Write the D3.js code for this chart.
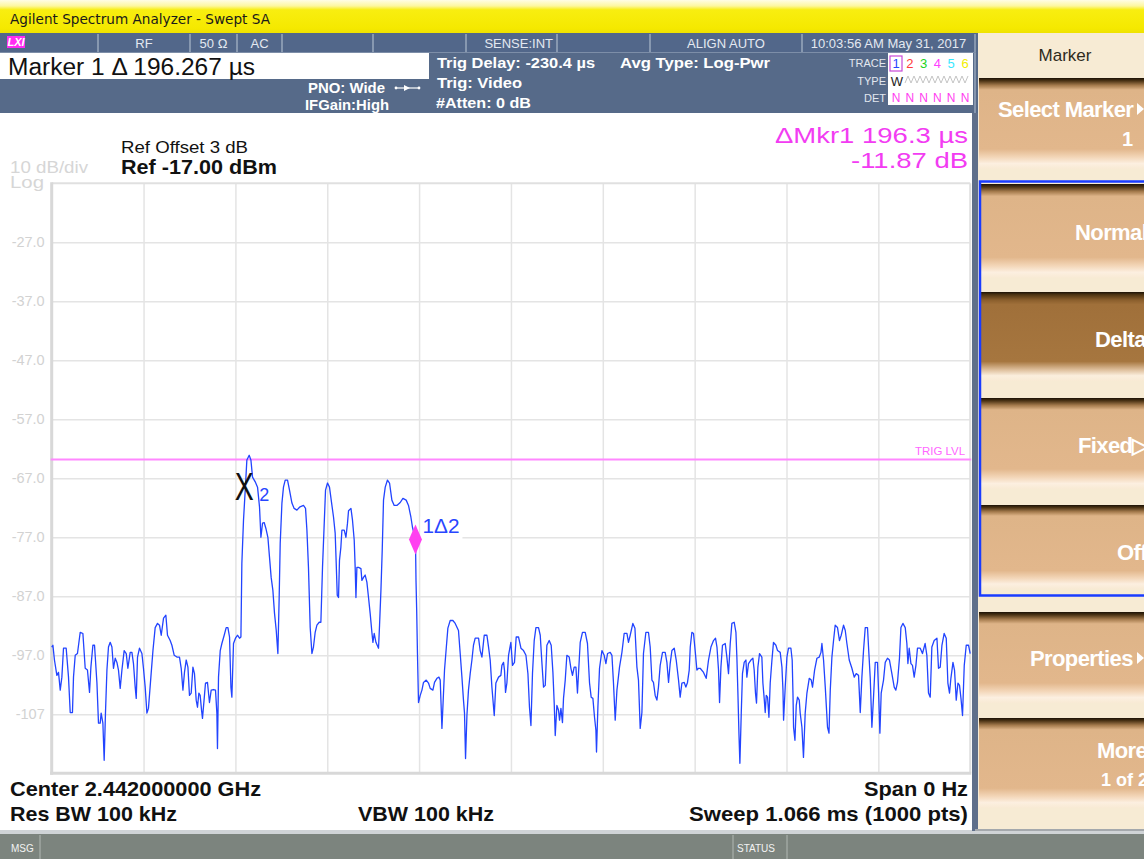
<!DOCTYPE html>
<html>
<head>
<meta charset="utf-8">
<script src="https://cdn.jsdelivr.net/npm/d3@7"></script>
<style>
  html, body { margin: 0; padding: 0; background: #ffffff; overflow: hidden; }
  svg { display: block; font-family: "Liberation Sans", Arial, sans-serif; }
</style>
</head>
<body>
<svg id="screen" width="1144" height="859"></svg>
<script>
// ---- Instrument settings ----
const refLevelDbm = -17;
const dbPerDiv = 10;
const numDivisions = 10;
const sweepTimeUs = 1066;
const trigLevelDbm = -63.8;

// Y grid values and their labels (top/bottom graticule lines are unlabeled)
const yGridDbm = [-27, -37, -47, -57, -67, -77, -87, -97, -107];
const yGridLabels = ["-27.0", "-37.0", "-47.0", "-57.0", "-67.0", "-77.0", "-87.0", "-97.0", "-107"];

// Markers: marker 2 is the reference, marker 1 is a delta from it
const marker2 = { timeUs: 225.9, dbm: -65.5 };
const marker1Delta = { timeUs: 196.267, db: -11.87 };

// Trace 1 (clear/write): [time from sweep start in µs, level in dBm]
const traceSweep = [
[0,-95.6],[1.4,-95.3],[3.2,-97.8],[6.0,-100.4],[7.9,-99.9],[9.9,-102.9],[11.8,-100.7],[13.7,-95.8],[16.8,-95.8],[19.5,-100.7],
[21.5,-106.7],[24.1,-106.7],[25.3,-100.7],[27.3,-97.0],[29.9,-96.7],[33.1,-93.1],[36.2,-93.3],[38.9,-99.2],[41.5,-99.5],[43.9,-103.3],
[45.5,-99.0],[47.8,-95.3],[49.7,-95.3],[52.5,-101.7],[54.3,-108.5],[56.3,-108.5],[57.4,-106.8],[59.4,-108.5],[60.9,-114.8],[62.4,-106.8],
[64.1,-99.5],[65.9,-95.6],[67.9,-94.8],[69.9,-95.6],[71.7,-99.2],[73.7,-97.5],[75.7,-98.2],[77.5,-99.5],[79.5,-102.6],[81.5,-99.5],
[84.1,-96.2],[86.5,-96.7],[88.4,-99.2],[91.1,-96.5],[93.1,-96.5],[94.9,-98.4],[96.9,-102.4],[98.1,-104.3],[99.6,-97.3],[101.9,-95.8],
[104.7,-96.7],[106.5,-99.2],[108.5,-102.4],[110.5,-106.8],[112.3,-106.0],[115.1,-100.7],[117.5,-96.2],[120.1,-92.3],[122.8,-91.6],[125.1,-91.9],
[127.1,-93.6],[129.8,-90.7],[132.5,-90.2],[134.4,-93.6],[137.5,-94.5],[139.5,-95.3],[142.2,-97.0],[145.3,-97.3],[148.3,-97.3],[150.3,-99.2],
[152.3,-102.9],[154.1,-99.9],[156.1,-97.8],[158.1,-99.0],[159.9,-103.8],[161.9,-103.4],[163.9,-99.0],[165.7,-100.1],[167.7,-104.6],[169.2,-105.8],
[170.8,-103.4],[172.3,-103.8],[173.9,-106.3],[175.0,-107.7],[177.0,-104.3],[178.5,-101.7],[180.8,-101.6],[182.0,-103.4],[183.1,-105.0],[185.1,-102.9],
[187.8,-102.8],[190.1,-102.9],[191.7,-106.8],[192.4,-112.8],[193.6,-100.7],[195.6,-96.2],[197.5,-95.0],[200.2,-93.6],[202.5,-92.3],[204.5,-92.3],
[206.4,-93.9],[208.0,-102.4],[209.1,-104.1],[211.0,-95.0],[213.3,-94.1],[215.6,-93.6],[218.0,-94.1],[219.6,-93.9],
[220.7,-81.4],[222.6,-74.1],[224.6,-69.0],[226.5,-63.9],[229.2,-63.1],[231.2,-63.9],[233.1,-66.8],[236.2,-67.6],[238.9,-68.5],[241.2,-71.9],
[242.8,-77.0],[244.7,-74.6],[246.6,-74.5],[248.6,-75.5],[250.9,-77.0],[252.8,-80.4],[254.7,-83.8],[256.7,-86.0],[258.6,-89.9],[260.6,-92.8],
[262.5,-96.7],[264.0,-87.2],[265.2,-78.0],[267.2,-71.2],[269.0,-68.5],[271.0,-67.3],[273.7,-67.3],[276.0,-69.0],[278.8,-71.2],[281.4,-72.1],
[284.6,-72.4],[287.6,-71.9],[292.2,-71.6],[294.6,-72.1],[296.2,-75.8],[298.0,-82.1],[300.0,-92.3],[302.0,-96.7],[303.8,-95.6],[305.8,-93.1],
[307.8,-91.9],[310.5,-91.4],[312.4,-91.4],[314.3,-82.1],[316.3,-74.6],[317.8,-69.0],[320.1,-67.8],[322.4,-68.5],[324.4,-70.7],[327.1,-73.6],
[329.0,-76.3],[330.2,-81.4],[331.4,-86.8],[332.9,-87.2],[334.0,-80.9],[335.6,-78.7],[336.8,-75.8],[339.5,-75.8],[341.5,-77.0],[343.3,-74.6],
[344.5,-72.5],[347.3,-72.1],[349.1,-74.1],[351.1,-77.5],[352.2,-82.1],[353.1,-87.2],[354.2,-82.1],[356.1,-82.1],[358.9,-82.3],[360.0,-84.3],
[361.9,-83.8],[363.8,-83.4],[365.8,-84.6],[367.7,-87.2],[369.6,-89.9],[371.6,-93.1],[372.8,-94.8],[374.3,-93.3],[376.3,-94.8],[379.3,-95.8],
[380.5,-91.9],[382.1,-86.0],[383.6,-79.2],[385.1,-70.7],[387.1,-68.5],[389.7,-67.3],[392.1,-67.8],[394.8,-70.7],[397.5,-71.6],[400.6,-71.6],
[404.5,-71.1],[407.6,-70.4],[411.4,-70.7],[414.1,-71.6],[416.9,-73.6],[418.7,-75.3],[422.2,-77.4],[422.8,-84.3],[423.6,-89.4],[424.5,-96.7],
[425.7,-105.0],[427.7,-103.8],[429.7,-102.9],[431.5,-101.6],[434.7,-101.2],[437.3,-101.7],[439.3,-102.6],[442.4,-102.9],[444.3,-101.6],[447.1,-100.9],
[449.4,-100.7],[450.9,-101.2],[452.9,-109.4],[454.0,-105.8],[455.9,-99.5],[457.9,-95.8],[459.8,-92.4],[462.5,-91.1],[465.6,-91.1],[468.3,-91.6],
[472.1,-92.8],[474.1,-96.7],[476.1,-100.7],[477.9,-104.6],[479.1,-106.8],[480.3,-114.5],[481.9,-107.2],[483.7,-102.9],[485.7,-100.1],[487.7,-97.8],
[489.5,-95.3],[491.5,-94.1],[495.4,-94.1],[497.3,-96.2],[499.3,-97.3],[502.0,-93.6],[505.1,-93.6],[507.0,-95.6],[508.9,-97.8],[510.9,-102.4],
[513.6,-107.2],[515.5,-101.7],[518.6,-100.7],[521.3,-100.4],[522.5,-98.7],[524.4,-98.2],[525.5,-99.5],[526.7,-103.3],[528.3,-101.7],[530.2,-97.0],
[532.9,-94.8],[534.8,-98.7],[537.1,-98.2],[539.1,-93.9],[541.8,-93.9],[544.6,-95.8],[547.6,-96.2],[550.4,-97.0],[552.7,-100.1],[554.5,-105.8],
[556.2,-108.9],[558.0,-100.1],[560.0,-94.5],[562.0,-92.3],[565.0,-92.3],[567.0,-93.6],[568.9,-98.2],[570.8,-102.4],[572.8,-102.1],[574.7,-95.3],
[577.4,-94.5],[579.7,-95.3],[581.7,-99.9],[583.2,-105.1],[584.4,-110.6],[586.3,-105.5],[588.2,-106.3],[589.4,-108.0],[591.0,-106.0],[592.8,-108.4],
[594.0,-104.3],[596.0,-101.2],[597.9,-97.0],[600.6,-97.3],[602.6,-99.2],[604.4,-100.4],[606.4,-99.0],[608.4,-99.0],[610.2,-103.4],[611.4,-100.1],
[613.4,-94.8],[616.0,-93.1],[619.2,-93.1],[621.8,-95.0],[624.2,-101.7],[626.1,-104.1],[628.1,-104.3],[630.0,-107.5],[631.6,-109.7],[632.3,-113.4],
[633.9,-105.8],[635.8,-99.2],[638.6,-96.2],[641.2,-97.0],[643.2,-98.4],[645.1,-96.7],[648.2,-96.5],[650.2,-97.0],[652.0,-101.7],[654.0,-108.0],
[656.0,-102.9],[659.0,-99.0],[661.8,-96.5],[664.4,-93.3],[667.6,-93.3],[669.4,-94.8],[671.4,-93.6],[674.5,-91.6],[676.9,-92.4],[679.2,-99.0],
[681.0,-101.2],[683.0,-109.4],[685.0,-106.7],[686.8,-96.7],[689.6,-93.1],[692.6,-93.1],[694.6,-95.6],[696.6,-101.2],[698.4,-101.6],[700.4,-103.8],
[702.4,-104.6],[704.2,-102.4],[706.2,-98.7],[708.9,-96.5],[712.0,-96.5],[714.0,-98.2],[715.9,-101.6],[717.8,-98.4],[719.8,-96.2],[722.5,-95.8],
[724.8,-97.8],[727.5,-101.2],[729.4,-104.1],[731.4,-101.7],[734.1,-101.6],[736.0,-102.4],[737.9,-101.6],[739.9,-99.5],[741.1,-95.6],[743.0,-93.1],
[744.9,-93.3],[746.8,-96.2],[748.8,-99.5],[750.7,-99.2],[752.6,-99.2],[756.5,-99.9],[759.6,-100.9],[762.3,-97.8],[765.1,-95.6],[768.1,-94.5],
[770.4,-94.1],[772.1,-95.6],[773.9,-99.5],[775.1,-105.0],[776.7,-99.0],[778.5,-95.3],[781.7,-95.0],[783.6,-97.3],[785.5,-100.1],[787.5,-95.0],
[789.4,-91.6],[792.1,-91.4],[794.1,-93.1],[795.2,-97.3],[796.4,-103.4],[797.6,-110.2],[798.7,-115.3],[800.3,-106.8],[801.7,-100.1],[803.7,-98.2],
[805.7,-97.8],[806.8,-100.7],[808.7,-98.4],[811.5,-97.8],[813.8,-97.5],[815.3,-99.5],[816.8,-103.4],[818.0,-105.1],[819.6,-99.0],[821.5,-96.7],
[824.2,-97.3],[825.4,-101.7],[826.9,-104.3],[828.1,-106.7],[829.3,-103.8],[830.8,-104.1],[832.4,-107.5],[833.9,-101.7],[835.9,-97.8],[837.7,-94.8],
[840.5,-95.3],[842.4,-96.2],[845.5,-96.5],[847.5,-99.0],[848.7,-102.9],[849.4,-108.0],[851.3,-102.4],[853.3,-97.3],[855.1,-95.8],[857.9,-95.8],
[859.4,-97.8],[860.3,-103.4],[861.0,-109.2],[862.6,-111.4],[864.1,-105.5],[865.6,-104.1],[867.6,-104.6],[868.7,-106.8],[870.7,-109.2],[872.5,-114.3],
[874.5,-106.8],[876.5,-103.4],[879.2,-100.9],[881.5,-101.2],[883.0,-102.4],[885.4,-99.5],[888.1,-97.5],[890.8,-97.3],[892.8,-96.5],[893.9,-95.0],
[895.8,-97.8],[897.8,-102.4],[900.4,-109.2],[902.1,-110.2],[903.6,-102.9],[905.5,-97.3],[907.4,-94.5],[909.3,-91.9],[912.0,-92.3],[914.3,-94.5],
[916.3,-93.6],[919.0,-91.9],[921.0,-92.8],[922.9,-95.0],[925.6,-97.8],[928.7,-99.2],[931.4,-100.7],[933.7,-100.1],[936.4,-100.4],[938.4,-106.7],
[940.3,-100.7],[942.2,-96.2],[944.2,-92.3],[946.8,-92.3],[948.0,-95.6],[950.0,-100.9],[951.9,-109.2],[953.8,-104.1],[955.8,-98.2],[958.4,-98.2],
[959.6,-102.9],[961.2,-110.2],[962.7,-103.4],[965.4,-101.2],[967.4,-98.2],[970.0,-97.5],[972.3,-97.8],[975.1,-100.1],[977.8,-102.4],[979.7,-102.9],
[981.6,-101.6],[983.9,-97.5],[985.6,-92.3],[987.9,-91.6],[990.6,-92.3],[992.5,-95.0],[993.7,-98.4],[995.2,-95.8],[997.2,-98.4],[999.0,-98.7],
[1001.0,-100.7],[1003.0,-98.7],[1004.8,-95.8],[1008.0,-95.8],[1010.6,-96.7],[1013.7,-95.0],[1015.7,-97.0],[1017.6,-103.4],[1019.6,-104.1],[1021.5,-95.6],
[1024.2,-94.5],[1027.4,-94.1],[1029.2,-99.2],[1031.2,-99.0],[1033.2,-95.3],[1035.8,-93.3],[1038.2,-94.1],[1040.1,-101.7],[1042.0,-103.4],[1043.6,-100.9],
[1046.0,-98.2],[1047.8,-99.5],[1049.8,-104.6],[1051.8,-101.7],[1053.6,-102.1],[1055.3,-104.3],[1057.1,-107.2],[1059.1,-98.7],[1061.4,-95.3],[1064.1,-95.3],
[1066.0,-96.7]
];

// Header / footer annotation text
const statusCells = [
  { x0: 98,  x1: 190, text: "RF" },
  { x0: 190, x1: 237, text: "50 Ω" },
  { x0: 237, x1: 282, text: "AC" },
  { x0: 282, x1: 373, text: "" },
  { x0: 373, x1: 466, text: "" },
  { x0: 466, x1: 557, text: "SENSE:INT", anchor: "end" },
  { x0: 557, x1: 650, text: "" },
  { x0: 650, x1: 802, text: "ALIGN AUTO" },
  { x0: 802, x1: 975, text: "10:03:56 AM May 31, 2017" }
];
const traceColors = ["#2846ff", "#ff3a3a", "#22d422", "#ff40ff", "#38e8ff", "#f2ee00"];
const softkeys = [
  { label: "Select Marker", sub: "1", top: 78,  bottom: 169, tx: 998,  ty: 117, subX: 1122, subY: 146, arrow: "▶" },
  { label: "Normal",        top: 184, bottom: 278, tx: 1075, ty: 240 },
  { label: "Delta",         top: 292, bottom: 381, tx: 1095, ty: 347, selected: true },
  { label: "Fixed",         top: 398, bottom: 489, tx: 1078, ty: 453, arrow: "▷" },
  { label: "Off",           top: 505, bottom: 589, tx: 1117, ty: 560 },
  { label: "Properties",    top: 612, bottom: 703, tx: 1030, ty: 666, arrow: "▶" },
  { label: "More", sub: "1 of 2", top: 718, bottom: 808, tx: 1097, ty: 758, subX: 1101, subY: 786 }
];

// ---- Drawing ----
const svg = d3.select("#screen");
const defs = svg.append("defs");

// Stretch a text to a given rendered width
function fit(sel, w) {
  return sel.attr("textLength", w).attr("lengthAdjust", "spacingAndGlyphs");
}

function vGrad(id, stops) {
  const g = defs.append("linearGradient").attr("id", id)
    .attr("x1", 0).attr("y1", 0).attr("x2", 0).attr("y2", 1);
  stops.forEach(([o, c]) => g.append("stop").attr("offset", o).attr("stop-color", c));
}
vGrad("titleGrad", [[0, "#fffde6"], [0.18, "#fdf7a0"], [0.3, "#f8ee10"], [0.85, "#f5e900"], [1, "#efe200"]]);
vGrad("keyGrad", [[0, "#1c1206"], [0.03, "#4a3214"], [0.08, "#a47a4c"], [0.13, "#deb488"], [0.78, "#e2b78c"], [0.87, "#f3d6b8"], [0.94, "#fcefe0"], [1, "#f8ead4"]]);
vGrad("keySelGrad", [[0, "#1c1206"], [0.03, "#4e3412"], [0.09, "#8a5e2c"], [0.14, "#a0703a"], [0.78, "#a6763f"], [0.87, "#dcbc98"], [0.94, "#fbeedd"], [1, "#f8ead4"]]);

// Title bar
svg.append("rect").attr("x", 0).attr("y", 0).attr("width", 1144).attr("height", 33).attr("fill", "url(#titleGrad)");
fit(svg.append("text").attr("x", 10).attr("y", 24)
  .attr("font-family", "DejaVu Sans, Verdana, sans-serif").attr("font-size", 13.5).attr("fill", "#1a1a1a")
  .text("Agilent Spectrum Analyzer - Swept SA"), 260);

// Main display backgrounds
svg.append("rect").attr("x", 0).attr("y", 33).attr("width", 978).attr("height", 80).attr("fill", "#566a89");
svg.append("rect").attr("x", 0).attr("y", 113).attr("width", 972).attr("height", 718).attr("fill", "#ffffff");

// Status row
const status = svg.append("g");
status.append("rect").attr("x", 0).attr("y", 33).attr("width", 976).attr("height", 19).attr("fill", "#52678a");
statusCells.forEach(c => {
  status.append("line").attr("x1", c.x0).attr("x2", c.x0).attr("y1", 34).attr("y2", 52)
    .attr("stroke", "#9aa8bd").attr("stroke-width", 1.5);
  if (c.text) {
    const anchorEnd = c.anchor === "end";
    status.append("text")
      .attr("x", anchorEnd ? c.x1 - 4 : (c.x0 + c.x1) / 2)
      .attr("y", 48).attr("text-anchor", anchorEnd ? "end" : "middle")
      .attr("font-size", 13).attr("fill", "#e4e9f1").text(c.text);
  }
});
status.append("line").attr("x1", 975).attr("x2", 975).attr("y1", 34).attr("y2", 113).attr("stroke", "#8696ae").attr("stroke-width", 2);
status.append("line").attr("x1", 0).attr("x2", 976).attr("y1", 52.5).attr("y2", 52.5).attr("stroke", "#7d8ea8").attr("stroke-width", 1);
// LXI badge
status.append("rect").attr("x", 7).attr("y", 36).attr("width", 18).attr("height", 12).attr("fill", "#ff2cf2");
status.append("text").attr("x", 16).attr("y", 46).attr("text-anchor", "middle")
  .attr("font-size", 11).attr("font-weight", "bold").attr("font-style", "italic").attr("fill", "#ffffff").text("LXI");

// Active function readout
svg.append("rect").attr("x", 0).attr("y", 53).attr("width", 429).attr("height", 26).attr("fill", "#ffffff");
fit(svg.append("text").attr("x", 8).attr("y", 75).attr("font-size", 23).attr("fill", "#111")
  .text("Marker 1 Δ 196.267 µs"), 247);

// Settings readouts
const info = svg.append("g").attr("fill", "#ffffff").attr("font-weight", "bold").attr("font-size", 15);
fit(info.append("text").attr("x", 308).attr("y", 93).text("PNO: Wide"), 77);
fit(info.append("text").attr("x", 305).attr("y", 110).text("IFGain:High"), 84);
fit(info.append("text").attr("x", 437).attr("y", 68).text("Trig Delay: -230.4 µs"), 158);
fit(info.append("text").attr("x", 437).attr("y", 88).text("Trig: Video"), 85);
fit(info.append("text").attr("x", 436).attr("y", 108).text("#Atten: 0 dB"), 95);
fit(info.append("text").attr("x", 620).attr("y", 68).text("Avg Type: Log-Pwr"), 150);
// PNO indicator glyph
const pno = svg.append("g").attr("stroke", "#ffffff").attr("fill", "#ffffff");
pno.append("line").attr("x1", 395).attr("x2", 420).attr("y1", 88).attr("y2", 88).attr("stroke-width", 1.2);
pno.append("path").attr("d", "M404,85 L410,88 L404,91 Z").attr("stroke", "none");
pno.append("circle").attr("cx", 396).attr("cy", 88).attr("r", 1.4).attr("stroke", "none");
pno.append("circle").attr("cx", 419).attr("cy", 88).attr("r", 1.4).attr("stroke", "none");

// Trace status table
const tt = svg.append("g");
tt.append("rect").attr("x", 888).attr("y", 53).attr("width", 85).attr("height", 52).attr("fill", "#ffffff");
[["TRACE", 67], ["TYPE", 85], ["DET", 102]].forEach(([t, yy]) =>
  tt.append("text").attr("x", 886).attr("y", yy).attr("text-anchor", "end")
    .attr("font-size", 11).attr("fill", "#e2e7ef").text(t));
traceColors.forEach((c, i) => {
  const cx = 896 + i * 13.8;
  tt.append("text").attr("x", cx).attr("y", 68).attr("text-anchor", "middle")
    .attr("font-size", 13).attr("fill", c).text(String(i + 1));
  tt.append("text").attr("x", cx).attr("y", 102).attr("text-anchor", "middle")
    .attr("font-size", 12).attr("fill", "#ff3cf0").text("N");
});
tt.append("rect").attr("x", 890).attr("y", 56).attr("width", 12).attr("height", 15)
  .attr("fill", "none").attr("stroke", "#c848d8").attr("stroke-width", 1.2);
tt.append("text").attr("x", 897).attr("y", 86).attr("text-anchor", "middle")
  .attr("font-size", 13).attr("fill", "#222").text("W");
const wave = d3.range(905, 971, 3).map((px, i) => [px, i % 2 ? 76 : 83]);
tt.append("path").attr("d", d3.line()(wave)).attr("fill", "none").attr("stroke", "#c4c4c4").attr("stroke-width", 1);

// ---- Graticule ----
const plot = { left: 51.7, right: 970.2, top: 183.3, bottom: 773.3 };
const x = d3.scaleLinear().domain([0, sweepTimeUs]).range([plot.left, plot.right]);
const y = d3.scaleLinear()
  .domain([refLevelDbm - dbPerDiv * numDivisions, refLevelDbm])
  .range([plot.bottom, plot.top]);

const yAxis = svg.append("g").attr("transform", `translate(${plot.left},0)`)
  .call(d3.axisLeft(y).tickValues(yGridDbm)
    .tickSize(-(plot.right - plot.left)).tickPadding(7)
    .tickFormat((d, i) => yGridLabels[i]));
yAxis.select(".domain").remove();
yAxis.selectAll(".tick line").attr("stroke", "#e4e4e4").attr("stroke-width", 1.5);
yAxis.selectAll(".tick text").attr("fill", "#d2d2d2").attr("font-size", 14.5)
  .attr("font-family", "Liberation Sans, Arial, sans-serif");

const xDivs = d3.range(1, numDivisions).map(i => i * sweepTimeUs / numDivisions);
const xAxis = svg.append("g").attr("transform", `translate(0,${plot.bottom})`)
  .call(d3.axisBottom(x).tickValues(xDivs).tickSize(-(plot.bottom - plot.top)).tickFormat(""));
xAxis.select(".domain").remove();
xAxis.selectAll(".tick line").attr("stroke", "#e4e4e4").attr("stroke-width", 1.5);

// Graticule frame
const frame = svg.append("g").attr("fill", "none");
frame.append("line").attr("x1", plot.left).attr("x2", plot.right).attr("y1", plot.top).attr("y2", plot.top)
  .attr("stroke", "#e0e0e0").attr("stroke-width", 2);
frame.append("line").attr("x1", plot.right).attr("x2", plot.right).attr("y1", plot.top).attr("y2", plot.bottom)
  .attr("stroke", "#e0e0e0").attr("stroke-width", 2);
frame.append("line").attr("x1", plot.left).attr("x2", plot.left).attr("y1", plot.top - 1).attr("y2", plot.bottom + 1.5)
  .attr("stroke", "#d8d8d8").attr("stroke-width", 3);
frame.append("line").attr("x1", plot.left - 1.5).attr("x2", plot.right + 1).attr("y1", plot.bottom).attr("y2", plot.bottom)
  .attr("stroke", "#d8d8d8").attr("stroke-width", 3);

// Scale annotations
fit(svg.append("text").attr("x", 10).attr("y", 173).attr("font-size", 16).attr("fill", "#d6d6d6").text("10 dB/div"), 78);
fit(svg.append("text").attr("x", 10).attr("y", 188).attr("font-size", 16).attr("fill", "#d6d6d6").text("Log"), 34);
fit(svg.append("text").attr("x", 121).attr("y", 153).attr("font-size", 17).attr("fill", "#111").text("Ref Offset 3 dB"), 127);
fit(svg.append("text").attr("x", 121).attr("y", 174).attr("font-size", 20).attr("font-weight", "bold").attr("fill", "#111")
  .text(`Ref ${refLevelDbm.toFixed(2)} dBm`), 156);

// Delta marker readout
const m1Time = marker2.timeUs + marker1Delta.timeUs;
const m1Dbm = marker2.dbm + marker1Delta.db;
fit(svg.append("text").attr("x", 775).attr("y", 143).attr("font-size", 22)
  .attr("fill", "#f23cf2").text(`ΔMkr1 ${marker1Delta.timeUs.toFixed(1)} µs`), 193);
fit(svg.append("text").attr("x", 851).attr("y", 168).attr("font-size", 22)
  .attr("fill", "#f23cf2").text(`${marker1Delta.db.toFixed(2)} dB`), 117);

// Video trigger level
svg.append("line").attr("x1", plot.left - 1).attr("x2", plot.right + 1)
  .attr("y1", y(trigLevelDbm)).attr("y2", y(trigLevelDbm))
  .attr("stroke", "#ff88ff").attr("stroke-width", 2);
fit(svg.append("text").attr("x", 915).attr("y", y(trigLevelDbm) - 4)
  .attr("font-size", 11).attr("fill", "#ff66ff").text("TRIG LVL"), 50);

// Trace
svg.append("path").datum(traceSweep)
  .attr("fill", "none").attr("stroke", "#2244ff").attr("stroke-width", 1.3).attr("stroke-linejoin", "round")
  .attr("d", d3.line().x(d => x(d[0])).y(d => y(d[1])));

// Marker 2 (reference)
const m2x = x(marker2.timeUs), m2y = y(marker2.dbm);
svg.append("text").attr("x", m2x - 2).attr("y", m2y + 31).attr("text-anchor", "middle")
  .attr("font-size", 38).attr("textLength", 19).attr("lengthAdjust", "spacingAndGlyphs")
  .attr("fill", "#111").text("X");
svg.append("text").attr("x", m2x + 13).attr("y", m2y + 32).attr("font-size", 18).attr("fill", "#2846ff").text("2");

// Marker 1 (delta)
const m1x = x(m1Time), m1y = y(m1Dbm);
svg.append("rect").attr("x", m1x + 5).attr("y", m1y - 23).attr("width", 42).attr("height", 25).attr("fill", "#ffffff");
svg.append("path").attr("d", `M${m1x},${m1y - 15} L${m1x + 6.5},${m1y} L${m1x},${m1y + 15} L${m1x - 6.5},${m1y} Z`)
  .attr("fill", "#ff40f0");
fit(svg.append("text").attr("x", m1x + 7).attr("y", m1y - 6).attr("font-size", 19.5).attr("fill", "#2846ff").text("1Δ2"), 37);

// Bottom settings
const foot = svg.append("g").attr("font-weight", "bold").attr("font-size", 21).attr("fill", "#111");
fit(foot.append("text").attr("x", 10).attr("y", 796).text("Center 2.442000000 GHz"), 251);
fit(foot.append("text").attr("x", 10).attr("y", 821).text("Res BW 100 kHz"), 167);
fit(foot.append("text").attr("x", 358).attr("y", 821).text("VBW 100 kHz"), 136);
fit(foot.append("text").attr("x", 864).attr("y", 796).text("Span 0 Hz"), 104);
fit(foot.append("text").attr("x", 689).attr("y", 821).text(`Sweep  ${(sweepTimeUs / 1000).toFixed(3)} ms (1000 pts)`), 279);

// Message bar
svg.append("rect").attr("x", 0).attr("y", 830).attr("width", 1144).attr("height", 4).attr("fill", "#cfd3d6");
svg.append("rect").attr("x", 0).attr("y", 834).attr("width", 1144).attr("height", 25).attr("fill", "#7c847e");
[40, 733, 787].forEach(px => svg.append("line").attr("x1", px).attr("x2", px).attr("y1", 835).attr("y2", 859)
  .attr("stroke", "#a9b0ab").attr("stroke-width", 1.2));
svg.append("text").attr("x", 11).attr("y", 852).attr("font-size", 10).attr("fill", "#f2f2f2").text("MSG");
svg.append("text").attr("x", 737).attr("y", 852).attr("font-size", 10).attr("fill", "#f2f2f2").text("STATUS");

// ---- Softkey panel ----
const panel = svg.append("g");
panel.append("rect").attr("x", 972).attr("y", 113).attr("width", 6).attr("height", 718).attr("fill", "#5f6f8a");
panel.append("rect").attr("x", 978).attr("y", 33).attr("width", 166).attr("height", 797).attr("fill", "#f7ebd4");
panel.append("text").attr("x", 1065).attr("y", 61).attr("text-anchor", "middle").attr("font-size", 17)
  .attr("fill", "#2e2a1c").text("Marker");
softkeys.forEach(k => {
  panel.append("rect").attr("x", 979).attr("y", k.top).attr("width", 166).attr("height", k.bottom - k.top)
    .attr("fill", k.selected ? "url(#keySelGrad)" : "url(#keyGrad)");
  panel.append("text").attr("x", k.tx).attr("y", k.ty).attr("font-size", 22).attr("font-weight", "bold")
    .attr("letter-spacing", -0.6).attr("fill", "#ffffff")
    .text(k.label + (k.arrow === "▷" ? k.arrow : ""));
  if (k.arrow === "▶") {
    const ay = k.ty - 8;
    panel.append("path").attr("d", `M1137,${ay - 6} L1144,${ay} L1137,${ay + 6} Z`).attr("fill", "#ffffff");
  }
  if (k.sub) {
    panel.append("text").attr("x", k.subX).attr("y", k.subY)
      .attr("font-size", k.label === "More" ? 18 : 20).attr("font-weight", "bold").attr("fill", "#ffffff").text(k.sub);
  }
});
// Marker mode group outline
panel.append("rect").attr("x", 980).attr("y", 181.5).attr("width", 170).attr("height", 414)
  .attr("fill", "none").attr("stroke", "#1a3cff").attr("stroke-width", 2.5);
panel.append("rect").attr("x", 975).attr("y", 829).attr("width", 169).attr("height", 2).attr("fill", "#a4a8ac");
</script>
</body>
</html>
